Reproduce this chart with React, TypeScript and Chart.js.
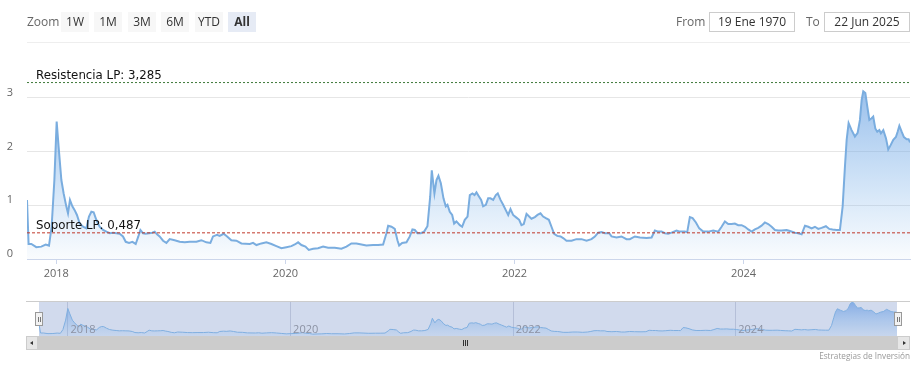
import React, { useEffect, useRef } from 'react';
import { Chart, registerables } from 'chart.js';

Chart.register(...registerables);

// Fechas en años decimales
const fechas: number[] = [
  2017.744, 2017.758, 2017.782, 2017.825, 2017.869, 2017.907, 2017.936, 2017.959, 2017.983,
  2018.003, 2018.020, 2018.044, 2018.064, 2018.087, 2018.102, 2018.119, 2018.140, 2018.160,
  2018.180, 2018.204, 2018.233, 2018.262, 2018.285, 2018.306, 2018.326, 2018.349, 2018.378,
  2018.408, 2018.437, 2018.466, 2018.495, 2018.524, 2018.553, 2018.582, 2018.606, 2018.635,
  2018.664, 2018.693, 2018.716, 2018.734, 2018.757, 2018.780, 2018.809, 2018.838, 2018.859,
  2018.879, 2018.902, 2018.932, 2018.961, 2018.990, 2019.033, 2019.077, 2019.121, 2019.164,
  2019.223, 2019.266, 2019.310, 2019.345, 2019.368, 2019.403, 2019.426, 2019.461, 2019.491,
  2019.528, 2019.572, 2019.616,
  2019.689, 2019.718, 2019.747, 2019.790, 2019.834, 2019.878, 2019.921, 2019.965, 2020.009,
  2020.052, 2020.082, 2020.111, 2020.140, 2020.175, 2020.204, 2020.242, 2020.285, 2020.329,
  2020.373, 2020.431, 2020.489, 2020.533, 2020.576, 2020.620, 2020.664, 2020.707, 2020.766,
  2020.809, 2020.853, 2020.882, 2020.897, 2020.926, 2020.955, 2020.978, 2020.993, 2021.019,
  2021.057, 2021.086, 2021.109, 2021.130, 2021.153, 2021.182, 2021.211, 2021.240, 2021.264,
  2021.278, 2021.301, 2021.319, 2021.336, 2021.357, 2021.380, 2021.400, 2021.415, 2021.435,
  2021.456, 2021.473, 2021.493, 2021.523, 2021.543, 2021.566, 2021.590,
  2021.610, 2021.633, 2021.651, 2021.668, 2021.691, 2021.709, 2021.726, 2021.750, 2021.770,
  2021.790, 2021.814, 2021.837, 2021.854, 2021.878, 2021.901, 2021.924, 2021.945, 2021.965,
  2021.988, 2022.017, 2022.041, 2022.061, 2022.081, 2022.105, 2022.128, 2022.148, 2022.178,
  2022.201, 2022.227, 2022.250, 2022.274, 2022.300, 2022.323, 2022.346, 2022.373, 2022.402,
  2022.425, 2022.454, 2022.498, 2022.541, 2022.585, 2022.629, 2022.672, 2022.702, 2022.731,
  2022.760, 2022.789, 2022.827, 2022.847, 2022.891, 2022.934, 2022.978, 2023.007, 2023.051,
  2023.095, 2023.153, 2023.197, 2023.226, 2023.255, 2023.284, 2023.313, 2023.342, 2023.371,
  2023.415, 2023.444, 2023.488, 2023.508, 2023.531,
  2023.555, 2023.584, 2023.613, 2023.648, 2023.691, 2023.735, 2023.779, 2023.808, 2023.837,
  2023.866, 2023.895, 2023.924, 2023.953, 2023.983, 2024.012, 2024.041, 2024.070, 2024.099,
  2024.128, 2024.157, 2024.186, 2024.215, 2024.245, 2024.274, 2024.303, 2024.332, 2024.376,
  2024.405, 2024.448, 2024.477, 2024.507, 2024.536, 2024.565, 2024.594, 2024.623, 2024.652,
  2024.681, 2024.719, 2024.748, 2024.777, 2024.812, 2024.841, 2024.865, 2024.885, 2024.900,
  2024.917, 2024.943, 2024.972, 2024.996, 2025.016, 2025.031, 2025.045, 2025.063, 2025.080,
  2025.098, 2025.118, 2025.132, 2025.150, 2025.167, 2025.185, 2025.199, 2025.220, 2025.243,
  2025.263, 2025.284, 2025.307, 2025.330, 2025.345, 2025.360, 2025.380, 2025.400, 2025.424,
  2025.441, 2025.453,
];

const ratio: number[] = [
  1.10, 0.28, 0.28, 0.22, 0.23, 0.27, 0.25, 0.60, 1.47,
  2.56, 2.09, 1.47, 1.22, 0.98, 0.85, 1.10, 0.98, 0.91,
  0.82, 0.66, 0.60, 0.57, 0.79, 0.88, 0.87, 0.73, 0.60,
  0.54, 0.51, 0.48, 0.49, 0.48, 0.47, 0.42, 0.32, 0.30,
  0.32, 0.28, 0.42, 0.54, 0.48, 0.47, 0.48, 0.49, 0.51,
  0.46, 0.42, 0.34, 0.30, 0.37, 0.35, 0.32, 0.31, 0.32,
  0.32, 0.35, 0.31, 0.30, 0.42, 0.45, 0.43, 0.47, 0.42,
  0.35, 0.34, 0.29,
  0.28, 0.30, 0.26, 0.29, 0.31, 0.28, 0.24, 0.20, 0.22,
  0.24, 0.27, 0.31, 0.26, 0.23, 0.17, 0.19, 0.20, 0.23,
  0.21, 0.21, 0.19, 0.23, 0.29, 0.29, 0.27, 0.25, 0.26,
  0.26, 0.27, 0.48, 0.62, 0.60, 0.56, 0.35, 0.25, 0.30,
  0.31, 0.42, 0.55, 0.54, 0.48, 0.48, 0.51, 0.61, 1.16,
  1.65, 1.22, 1.47, 1.55, 1.41, 1.13, 0.98, 1.01, 0.88,
  0.82, 0.66, 0.70, 0.63, 0.60, 0.73, 0.79,
  1.19, 1.22, 1.19, 1.24, 1.16, 1.10, 0.98, 1.01, 1.13,
  1.13, 1.10, 1.19, 1.22, 1.10, 1.01, 0.91, 0.82, 0.93,
  0.82, 0.77, 0.73, 0.63, 0.65, 0.84, 0.79, 0.75, 0.78,
  0.82, 0.85, 0.79, 0.76, 0.73, 0.60, 0.47, 0.43, 0.42,
  0.39, 0.34, 0.34, 0.37, 0.37, 0.34, 0.37, 0.42, 0.49,
  0.50, 0.48, 0.48, 0.42, 0.40, 0.42, 0.37, 0.37, 0.42,
  0.40, 0.39, 0.40, 0.53, 0.51, 0.51, 0.48, 0.47, 0.49,
  0.53, 0.51, 0.51, 0.50, 0.78,
  0.76, 0.68, 0.57, 0.51, 0.51, 0.53, 0.51, 0.60, 0.70,
  0.65, 0.65, 0.66, 0.63, 0.63, 0.60, 0.55, 0.51, 0.55,
  0.58, 0.62, 0.68, 0.65, 0.60, 0.54, 0.53, 0.53, 0.54,
  0.52, 0.49, 0.48, 0.46, 0.62, 0.60, 0.57, 0.60, 0.56,
  0.58, 0.61, 0.56, 0.55, 0.54, 0.54, 0.98, 1.72, 2.22,
  2.53, 2.40, 2.28, 2.35, 2.59, 2.96, 3.12, 3.09, 2.84,
  2.59, 2.62, 2.65, 2.43, 2.37, 2.40, 2.34, 2.40, 2.25,
  2.04, 2.12, 2.22, 2.27, 2.37, 2.48, 2.37, 2.27, 2.23,
  2.23, 2.17,
];

const yTicks = [0, 1, 2, 3];
const xTickYears = [2018, 2020, 2022, 2024];
const resistencia = 3.285;
const soporte = 0.487;
const resistenciaTexto = 'Resistencia LP: 3,285';
const soporteTexto = 'Soporte LP: 0,487';
const zoomTexto = 'Zoom';
const zoomBotones = ['1W', '1M', '3M', '6M', 'YTD', 'All'];
const botonActivo = 'All';
const desdeTexto = 'From';
const hastaTexto = 'To';
const desde = '19 Ene 1970';
const hasta = '22 Jun 2025';
const credito = 'Estrategias de Inversión';

const FONT = "'Open Sans', 'DejaVu Sans', sans-serif";
const LABEL_FONT = "'DejaVu Sans', sans-serif";

export default function App() {
  const mainRef = useRef<HTMLCanvasElement>(null);
  const navRef = useRef<HTMLCanvasElement>(null);

  useEffect(() => {
    document.body.style.margin = '0';
    const puntos = fechas.map((x, i) => ({ x, y: ratio[i] }));
    const xMin = fechas[0];
    const xMax = fechas[fechas.length - 1];

    const gradFill = (top: string, bottom: string) => (ctx: any) => {
      const chart = ctx.chart;
      const a = chart.chartArea;
      if (!a) return top;
      const g = chart.ctx.createLinearGradient(0, a.top, 0, a.bottom);
      g.addColorStop(0, top);
      g.addColorStop(1, bottom);
      return g;
    };

    const labelsPlugin = {
      id: 'plotLineLabels',
      afterDatasetsDraw(chart: any) {
        const { ctx, chartArea, scales } = chart;
        ctx.save();
        ctx.font = `11.8px ${LABEL_FONT}`;
        ctx.fillStyle = '#111';
        ctx.textAlign = 'left';
        ctx.textBaseline = 'alphabetic';
        const items: [number, string][] = [[resistencia, resistenciaTexto], [soporte, soporteTexto]];
        items.forEach(([v, t]) => {
          ctx.fillText(t, chartArea.left + 9, scales.y.getPixelForValue(v) - 4);
        });
        ctx.restore();
      },
    };

    const main = new Chart(mainRef.current!, {
      type: 'line',
      data: {
        datasets: [
          {
            data: puntos,
            borderColor: '#7aaddf',
            borderWidth: 2,
            backgroundColor: gradFill('rgba(110,163,226,0.78)', 'rgba(124,181,236,0.04)'),
            fill: 'origin',
            pointRadius: 0,
            tension: 0,
            order: 2,
          },
          {
            data: [{ x: xMin, y: resistencia }, { x: xMax, y: resistencia }],
            borderColor: '#3f7a3a',
            borderWidth: 1,
            borderDash: [2, 2],
            pointRadius: 0,
            fill: false,
            order: 1,
          },
          {
            data: [{ x: xMin, y: soporte }, { x: xMax, y: soporte }],
            borderColor: '#c0392b',
            borderWidth: 1,
            borderDash: [3, 2],
            pointRadius: 0,
            fill: false,
            order: 1,
          },
        ],
      } as any,
      options: {
        responsive: false,
        animation: false,
        layout: { padding: { left: 0, right: 14, top: 71, bottom: 80 } },
        plugins: { legend: { display: false }, tooltip: { enabled: false } },
        scales: {
          x: {
            type: 'linear',
            min: xMin,
            max: xMax,
            afterBuildTicks: (s: any) => { s.ticks = xTickYears.map((v) => ({ value: v })); },
            afterFit: (s: any) => { s.height = 30; },
            ticks: {
              callback: (v: any) => String(v),
              color: '#666',
              font: { family: FONT, size: 11 },
              padding: 3,
              maxRotation: 0,
              autoSkip: false,
            },
            grid: { drawOnChartArea: false, drawTicks: true, tickLength: 5, color: '#ccd6eb' },
            border: { color: '#ccd6eb' },
          },
          y: {
            min: 0,
            max: 3.5,
            afterBuildTicks: (s: any) => { s.ticks = yTicks.map((v) => ({ value: v })); },
            afterFit: (s: any) => { s.width = 27; },
            ticks: { color: '#666', font: { family: FONT, size: 11 }, padding: 14, labelOffset: -5 },
            grid: { color: '#e6e6e6', drawTicks: false },
            border: { display: false },
          },
        },
      } as any,
      plugins: [labelsPlugin],
    });

    const navPlugin = {
      id: 'navDecor',
      beforeDatasetsDraw(chart: any) {
        const { ctx, chartArea: a, scales } = chart;
        ctx.save();
        ctx.fillStyle = 'rgba(102,133,194,0.3)';
        ctx.fillRect(a.left, a.top, a.right - a.left, a.bottom - a.top);
        ctx.strokeStyle = 'rgba(80,95,140,0.22)';
        ctx.lineWidth = 1;
        xTickYears.forEach((v) => {
          const px = Math.round(scales.x.getPixelForValue(v)) + 0.5;
          ctx.beginPath();
          ctx.moveTo(px, a.top);
          ctx.lineTo(px, a.bottom);
          ctx.stroke();
        });
        ctx.restore();
      },
      afterDatasetsDraw(chart: any) {
        const { ctx, chartArea: a, scales } = chart;
        ctx.save();
        ctx.font = `11px ${FONT}`;
        ctx.fillStyle = '#8c92a3';
        ctx.textAlign = 'left';
        ctx.textBaseline = 'alphabetic';
        xTickYears.forEach((v) => {
          ctx.fillText(String(v), scales.x.getPixelForValue(v) + 3, a.bottom - 3);
        });
        ctx.strokeStyle = '#cccccc';
        ctx.beginPath();
        ctx.moveTo(26, a.top + 0.5);
        ctx.lineTo(910, a.top + 0.5);
        ctx.stroke();
        ctx.restore();
      },
    };

    const nav = new Chart(navRef.current!, {
      type: 'line',
      data: {
        datasets: [
          {
            data: puntos,
            borderColor: '#80afe0',
            borderWidth: 1,
            backgroundColor: gradFill('rgba(100,150,225,0.7)', 'rgba(124,181,236,0.12)'),
            fill: 'origin',
            pointRadius: 0,
            tension: 0,
          },
        ],
      } as any,
      options: {
        responsive: false,
        animation: false,
        layout: { padding: { left: 39, right: 27, top: 301, bottom: 33 } },
        plugins: { legend: { display: false }, tooltip: { enabled: false } },
        scales: {
          x: { type: 'linear', min: xMin, max: xMax, display: false },
          y: { min: 0, max: 3.25, display: false },
        },
      } as any,
      plugins: [navPlugin],
    });

    return () => {
      main.destroy();
      nav.destroy();
    };
  }, []);

  const abs = (s: any) => ({ position: 'absolute' as const, ...s });
  const handle = (left: number) => (
    <div style={abs({ left, top: 312, width: 8, height: 14, background: '#f2f2f2', border: '1px solid #999', boxSizing: 'border-box' })}>
      <div style={abs({ left: 2, top: 4, width: 1, height: 5, background: '#777' })} />
      <div style={abs({ left: 4, top: 4, width: 1, height: 5, background: '#777' })} />
    </div>
  );

  return (
    <div style={abs({ left: 0, top: 0, width: 924, height: 369, background: '#fff', overflow: 'hidden', fontFamily: FONT, position: 'fixed' })}>
      <canvas ref={mainRef} width={924} height={369} style={abs({ left: 0, top: 0 })} />
      <canvas ref={navRef} width={924} height={369} style={abs({ left: 0, top: 0 })} />

      <div style={abs({ left: 27, top: 42, width: 883, height: 1, background: '#eeeeee' })} />

      <div style={abs({ left: 27, top: 12, height: 20, lineHeight: '20px', fontSize: 12, color: '#666' })}>{zoomTexto}</div>
      {zoomBotones.map((b, i) => (
        <div
          key={b}
          style={abs({
            left: 61 + Math.round(i * 33.4),
            top: 12,
            width: 28,
            height: 20,
            lineHeight: '20px',
            textAlign: 'center',
            fontSize: 12,
            color: '#333',
            background: b === botonActivo ? '#e6ebf5' : '#f7f7f7',
            fontWeight: b === botonActivo ? 700 : 400,
          })}
        >
          {b}
        </div>
      ))}

      <div style={abs({ left: 676, top: 12, height: 20, lineHeight: '20px', fontSize: 12, color: '#666' })}>{desdeTexto}</div>
      <div style={abs({ left: 709, top: 12, width: 86, height: 20, lineHeight: '18px', fontSize: 12, color: '#333', textAlign: 'center', border: '1px solid #cccccc', boxSizing: 'border-box' })}>{desde}</div>
      <div style={abs({ left: 806, top: 12, height: 20, lineHeight: '20px', fontSize: 12, color: '#666' })}>{hastaTexto}</div>
      <div style={abs({ left: 824, top: 12, width: 86, height: 20, lineHeight: '18px', fontSize: 12, color: '#333', textAlign: 'center', border: '1px solid #cccccc', boxSizing: 'border-box' })}>{hasta}</div>

      {handle(35)}
      {handle(894)}

      <div style={abs({ left: 26, top: 336, width: 884, height: 14, background: '#f2f2f2' })} />
      <div style={abs({ left: 38, top: 336, width: 859, height: 14, background: '#cccccc' })} />
      <div style={abs({ left: 26, top: 336, width: 12, height: 14, background: '#e6e6e6', border: '1px solid #cccccc', boxSizing: 'border-box' })}>
        <div style={abs({ left: 3, top: 4, width: 0, height: 0, borderTop: '2.5px solid transparent', borderBottom: '2.5px solid transparent', borderRight: '3px solid #333' })} />
      </div>
      <div style={abs({ left: 897, top: 336, width: 13, height: 14, background: '#e6e6e6', border: '1px solid #cccccc', boxSizing: 'border-box' })}>
        <div style={abs({ left: 5, top: 4, width: 0, height: 0, borderTop: '2.5px solid transparent', borderBottom: '2.5px solid transparent', borderLeft: '3px solid #333' })} />
      </div>
      <div style={abs({ left: 463, top: 340, width: 1, height: 6, background: '#333' })} />
      <div style={abs({ left: 465, top: 340, width: 1, height: 6, background: '#333' })} />
      <div style={abs({ left: 467, top: 340, width: 1, height: 6, background: '#333' })} />

      <div style={abs({ right: 14, top: 350, fontSize: 8.2, lineHeight: '11px', color: '#999', whiteSpace: 'nowrap' })}>{credito}</div>
    </div>
  );
}
